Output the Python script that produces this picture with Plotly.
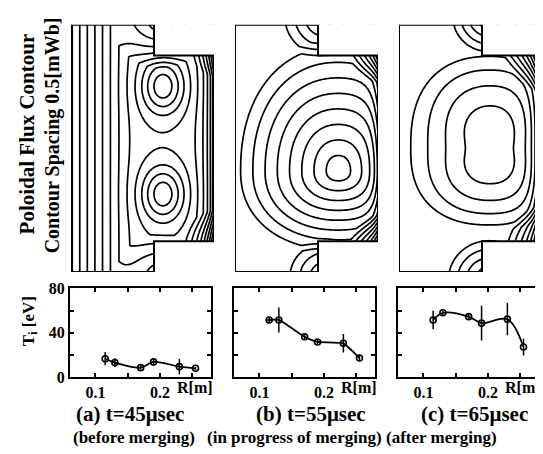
import numpy as np
import plotly.graph_objects as go

W_PX, H_PX = 543, 454
FONT = "Liberation Serif"

# ---------------- Ti(R) data ----------------
R_M = [0.115, 0.13, 0.17, 0.19, 0.23, 0.255]
TI_A = [16.5, 13.0, 8.4, 13.6, 9.3, 7.8]
ERR_A = [6.0, 4.0, 2.0, 3.5, 7.0, 1.5]
TI_B = [51.5, 51.5, 36.3, 31.6, 30.4, 17.1]
ERR_B = [2.0, 11.3, 3.0, 2.0, 8.3, 3.0]
ERRX_B = [0.004, 0, 0, 0, 0, 0]
TI_C = [51.5, 58.0, 54.5, 48.6, 52.2, 27.0]
ERR_C = [8.3, 2.0, 2.5, 15.7, 14.6, 7.6]

R_TICKS = [0.1, 0.2]
R_TICK_TEXT = ["0.1", "0.2"]
R_MINOR = [0.15, 0.25]
TI_TICKS = [0, 40, 80]
TI_TICK_TEXT = ["0", "40", "80"]
TI_MINOR = [20, 60]

CAPTIONS = ["(a) t=45\u03bcsec", "(b) t=55\u03bcsec", "(c) t=65\u03bcsec"]
SUBCAPTIONS = ["(before merging)", "(in progress of merging)", "(after merging)"]

# ---------------- flux-contour reconstruction (grid units) ----------------
VESSEL_U = [0, 83, 83, 143, 143, 83, 83, 0]
VESSEL_V = [0, 0, 32, 32, 225, 225, 257, 257]

BG_SLOPE = [0.133, 0.0, 0.0]
BG_U0 = [5.0, 0.0, 0.0]
BG_KNEE = [60.0, 0.0, 0.0]
BG_SOFT = [8.0, 1.0, 1.0]
WALL_AMP = [5.5, 2.04, 5.3]
WALL_LEN = [10.0, 5.5, 7.2]

O_KIND = [["gauss", "gauss"], ["cone"], ["cone"]]
O_U = [[92, 92], [103.5], [91.5]]
O_V = [[64, 176], [152], [128.5]]
O_AMP = [[3.9, 3.9], [8.5], [4.5]]
O_SL = [[15, 15], [104], [88]]
O_SR = [[15, 15], [104], [88]]
O_SU = [[20, 20], [137], [102]]
O_SD = [[20, 20], [87], [85]]
O_PH = [[2, 2], [1.0], [1.2]]
O_PV = [[2, 2], [1.0], [1.8]]
O_Q = [[1, 1], [1], [1]]
O_NORM = [[2, 2], [2.2], [2.4]]

COIL_U = [[90, 90, 150, 150], [90, 90, 150, 150], [90, 90, 155, 155]]
COIL_V = [[-5, 262, 25, 232], [-8, 262, 26, 232], [-8, 265, 22, 236]]
COIL_AMP = [[5, 4, 3, 5], [4.5, 4, 5.5, 5.5], [5, 5, 7, 7]]
COIL_RAD = [[50, 45, 30, 40], [45, 40, 35, 35], [40, 45, 50, 50]]

LEVEL_START, LEVEL_END = -12.5, 20.5

u = np.arange(0, 143.5, 1.0)
v = np.arange(0, 257.5, 1.0)
U, V = np.meshgrid(u, v)


def flux(k):
    s = BG_SOFT[k]
    psi = BG_SLOPE[k] * ((U - BG_U0[k]) - s * np.log1p(np.exp((U - BG_KNEE[k]) / s)))
    psi = psi - WALL_AMP[k] * np.exp(-(143 - U) / WALL_LEN[k])
    for i in range(len(O_U[k])):
        du = U - O_U[k][i]
        dv = V - O_V[k][i]
        x = du / np.where(du < 0, O_SL[k][i], O_SR[k][i])
        y = dv / np.where(dv < 0, O_SU[k][i], O_SD[k][i])
        n = O_NORM[k][i]
        d = (np.abs(x) ** n + np.abs(y) ** n) ** (1.0 / n)
        if O_KIND[k][i] == "gauss":
            psi = psi + O_AMP[k][i] * np.exp(-0.5 * d ** 2)
        else:
            c2 = x ** 2 / (x ** 2 + y ** 2 + 1e-12)
            p = O_PH[k][i] * c2 + O_PV[k][i] * (1 - c2)
            psi = psi + O_AMP[k][i] * np.clip(1 - d ** p, 0, None) ** O_Q[k][i]
    for j in range(len(COIL_U[k])):
        r = np.hypot(U - COIL_U[k][j], V - COIL_V[k][j])
        psi = psi - COIL_AMP[k][j] * np.clip(1 - r / COIL_RAD[k][j], 0, None)
    return np.round(psi, 3)


def pxx(x):
    return x / W_PX


def pxy(y):
    return 1 - y / H_PX


TOP_X = [(63, 206), (227, 370), (391, 534)]
TOP_Y = (9, 266)
BOT_X = [(62, 203), (226, 367), (390, 531)]
BOT_Y = (283, 375)

fig = go.Figure()
layout = dict(
    width=W_PX, height=H_PX, margin=dict(l=0, r=0, t=0, b=0),
    paper_bgcolor="white", plot_bgcolor="white", showlegend=False,
    font=dict(family=FONT, color="black"),
)
shapes = []
annotations = []

for k in range(3):
    xa = "x" if k == 0 else f"x{k + 1}"
    ya = "y" if k == 0 else f"y{k + 1}"
    fig.add_trace(go.Contour(
        x=u, y=v, z=flux(k), xaxis=xa, yaxis=ya,
        contours=dict(start=LEVEL_START, end=LEVEL_END, size=1, coloring="lines"),
        line=dict(width=1.7, smoothing=1),
        colorscale=[[0, "black"], [1, "black"]], showscale=False, hoverinfo="skip",
    ))
    axname_x = "xaxis" if k == 0 else f"xaxis{k + 1}"
    axname_y = "yaxis" if k == 0 else f"yaxis{k + 1}"
    layout[axname_x] = dict(domain=[pxx(TOP_X[k][0]), pxx(TOP_X[k][1])], range=[0, 143],
                            visible=False, anchor=ya)
    layout[axname_y] = dict(domain=[pxy(TOP_Y[1]), pxy(TOP_Y[0])], range=[257, 0],
                            visible=False, anchor=xa)
    for (y0, y1) in [(-2, VESSEL_V[2]), (VESSEL_V[4], 259)]:
        shapes.append(dict(type="rect", xref=xa, yref=ya, x0=VESSEL_U[1], x1=145,
                           y0=y0, y1=y1, fillcolor="white", line=dict(width=0), layer="above"))
    path = "M " + " L ".join(f"{a},{b}" for a, b in zip(VESSEL_U, VESSEL_V)) + " Z"
    shapes.append(dict(type="path", xref=xa, yref=ya, path=path,
                       line=dict(color="black", width=2), layer="above"))

TI_SETS = [(TI_A, ERR_A, None), (TI_B, ERR_B, ERRX_B), (TI_C, ERR_C, None)]
SMOOTH = [1.0, 0.4, 1.0]
TICKFONT = dict(family=FONT, size=16, weight="bold")
for k in range(3):
    xa = f"x{k + 4}"
    ya = f"y{k + 4}"
    ti, err, errx = TI_SETS[k]
    tr = go.Scatter(
        x=R_M, y=ti, xaxis=xa, yaxis=ya, mode="lines+markers",
        line=dict(color="black", width=1.8, shape="spline", smoothing=SMOOTH[k]),
        marker=dict(symbol="circle-open", size=6, color="black", line=dict(width=1.6)),
        error_y=dict(type="data", array=err, color="black", thickness=1.5, width=0),
        hoverinfo="skip",
    )
    if errx is not None:
        tr.error_x = dict(type="data", array=errx, color="black", thickness=1.5, width=0)
    fig.add_trace(tr)
    layout[f"xaxis{k + 4}"] = dict(
        domain=[pxx(BOT_X[k][0]), pxx(BOT_X[k][1])], range=[0.0605, 0.279], anchor=ya,
        tickvals=R_TICKS, ticktext=R_TICK_TEXT, ticks="inside", ticklen=4, tickwidth=1.5,
        minor=dict(tickvals=R_MINOR, ticks="inside", ticklen=4, tickwidth=1.5, tickcolor="black"),
        tickcolor="black",
        showline=True, linecolor="black", linewidth=2, mirror="ticks", showgrid=False,
        zeroline=False, tickfont=TICKFONT,
    )
    layout[f"yaxis{k + 4}"] = dict(
        domain=[pxy(BOT_Y[1]), pxy(BOT_Y[0])], range=[0, 80], anchor=xa,
        tickvals=TI_TICKS, ticktext=TI_TICK_TEXT, ticks="inside", ticklen=4, tickwidth=1.5,
        minor=dict(tickvals=TI_MINOR, ticks="inside", ticklen=4, tickwidth=1.5, tickcolor="black"),
        tickcolor="black",
        showline=True, linecolor="black", linewidth=2, mirror="ticks", showgrid=False,
        zeroline=False, showticklabels=(k == 0), tickfont=TICKFONT,
    )
    annotations.append(dict(text="R[m]", x=pxx(BOT_X[k][1] - 16), y=pxy(386), xref="paper",
                            yref="paper", showarrow=False, xanchor="center", yanchor="middle",
                            font=dict(family=FONT, size=16, weight="bold")))

CAP_X = [122, 303, 466]
SUB_X0 = [63, 197, 376]
for k in range(3):
    annotations.append(dict(text=CAPTIONS[k], x=pxx(CAP_X[k]), y=pxy(414), xref="paper",
                            yref="paper", showarrow=False, xanchor="center", yanchor="middle",
                            font=dict(family=FONT, size=21, weight="bold")))
    annotations.append(dict(text=SUBCAPTIONS[k], x=pxx(SUB_X0[k]), y=pxy(438), xref="paper",
                            yref="paper", showarrow=False, xanchor="left", yanchor="middle",
                            font=dict(family=FONT, size=17, weight="bold")))

annotations.append(dict(text="T<sub>i</sub> [eV]", x=pxx(22), y=pxy(317), xref="paper",
                        yref="paper", showarrow=False, textangle=-90, xanchor="center",
                        yanchor="middle", font=dict(family=FONT, size=17, weight="bold")))
annotations.append(dict(text="Poloidal Flux Contour", x=pxx(19), y=pxy(123), xref="paper",
                        yref="paper", showarrow=False, textangle=-90, xanchor="center",
                        yanchor="middle", font=dict(family=FONT, size=21, weight="bold")))
annotations.append(dict(text="Contour Spacing 0.5[mWb]", x=pxx(44), y=pxy(124), xref="paper",
                        yref="paper", showarrow=False, textangle=-90, xanchor="center",
                        yanchor="middle", font=dict(family=FONT, size=20, weight="bold")))

layout["shapes"] = shapes
layout["annotations"] = annotations
fig.update_layout(**layout)
fig.write_html("out.html")
